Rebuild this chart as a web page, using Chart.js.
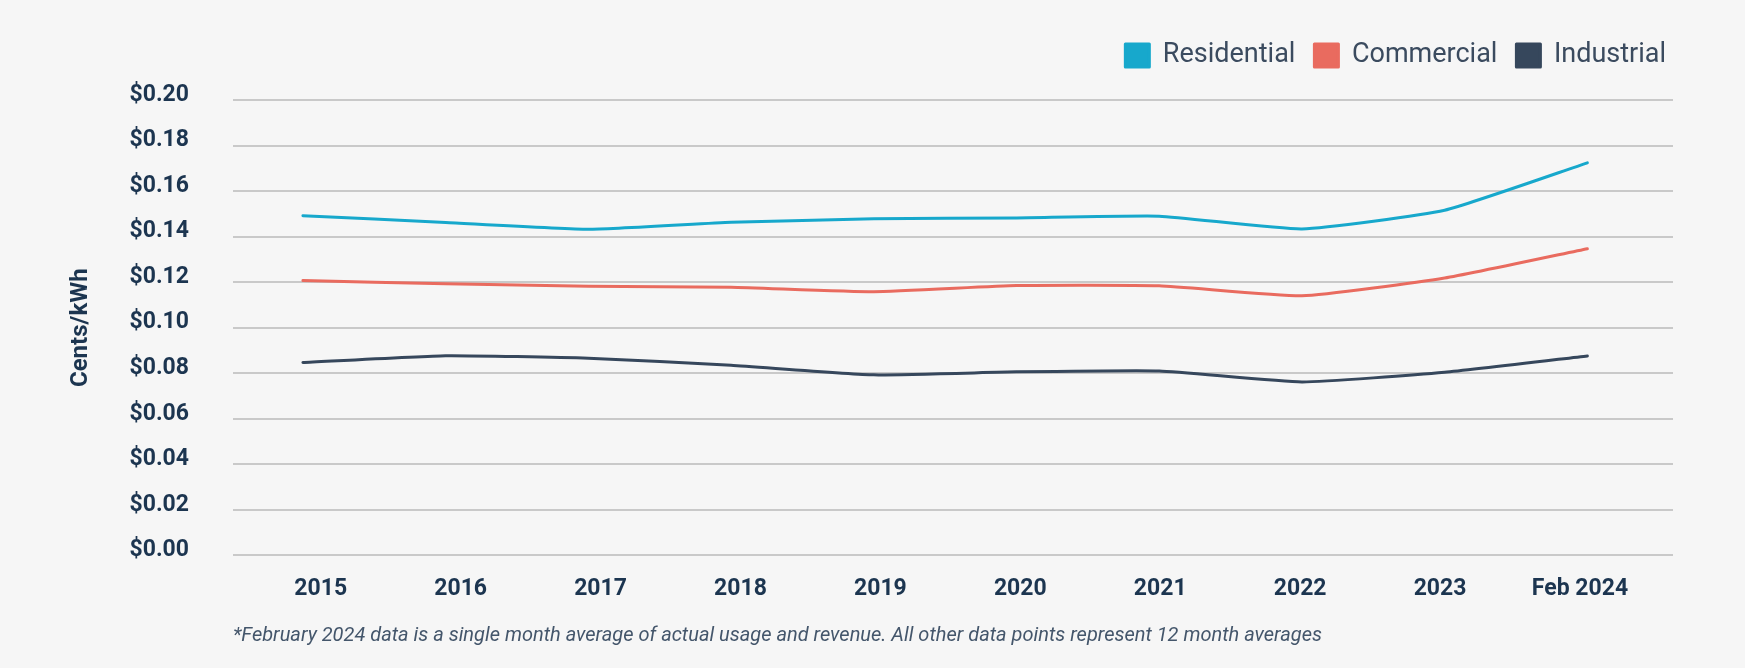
<!DOCTYPE html>
<html lang="en">
<head>
<meta charset="UTF-8" />
<title>Average price per kWh</title>
<script src="https://cdn.jsdelivr.net/npm/chart.js"></script>
<style>
  *{margin:0;padding:0;box-sizing:border-box}
  html,body{width:1745px;height:668px;background:#f6f6f6;overflow:hidden}
  .wrap{position:relative;width:1745px;height:668px}
</style>
</head>
<body>
<div class="wrap"><canvas id="priceChart"></canvas></div>
<script>
  // values ($ per kWh)
  const years = ['2015', '2016', '2017', '2018', '2019', '2020', '2021', '2022', '2023', 'Feb 2024'];
  const residential = [0.1492, 0.1462, 0.1432, 0.1463, 0.1478, 0.1482, 0.1490, 0.1434, 0.1516, 0.1724];
  const commercial  = [0.1207, 0.1193, 0.1182, 0.1178, 0.1158, 0.1185, 0.1184, 0.1140, 0.1218, 0.1347];
  const industrial  = [0.0847, 0.0877, 0.0866, 0.0835, 0.0793, 0.0806, 0.0810, 0.0762, 0.0804, 0.0876];
  const footnote = '*February 2024 data is a single month average of actual usage and revenue. All other data points represent 12 month averages';

  const navy = '#1c3550';

  // more room under the legend, and nudge it a bit to the right
  const legendTweak = {
    id: 'legendTweak',
    beforeInit(chart) {
      const fit = chart.legend.fit;
      chart.legend.fit = function () {
        fit.bind(chart.legend)();
        this.height += 21;
      };
    },
    afterLayout(chart) {
      chart.legend.left += 12;
      chart.legend.right += 12;
    }
  };

  const line = (label, values, color) => ({
    label,
    data: values.map((v, i) => ({ x: i, y: v })),
    borderColor: color,
    backgroundColor: color,
    borderWidth: 3,
    pointRadius: 0,
    tension: 0.15,
    borderCapStyle: 'round',
    borderJoinStyle: 'round'
  });

  new Chart(document.getElementById('priceChart'), {
    type: 'line',
    data: {
      datasets: [
        line('Residential', residential, '#17a8cc'),
        line('Commercial', commercial, '#e96b5f'),
        line('Industrial', industrial, '#36475c')
      ]
    },
    plugins: [legendTweak],
    options: {
      responsive: true,
      maintainAspectRatio: false,
      animation: false,
      layout: { padding: { top: 23, right: 72, bottom: 0, left: 0 } },
      plugins: {
        legend: {
          position: 'top',
          align: 'end',
          labels: {
            boxWidth: 24, boxHeight: 23, padding: 19,
            color: '#3b4b5f',
            font: { family: 'Roboto', size: 27 }
          }
        },
        tooltip: { enabled: false }
      },
      scales: {
        // data axis, hidden
        x: {
          type: 'linear',
          min: -0.49, max: 9.6,
          display: false
        },
        // label axis: the year labels sit a little apart from the points in the original
        xLabels: {
          type: 'linear',
          position: 'bottom',
          min: -0.627, max: 9.665,
          grid: { display: false },
          border: { display: false },
          ticks: {
            stepSize: 1, includeBounds: false, autoSkip: false, maxRotation: 0,
            padding: 12,
            color: navy,
            font: { family: 'Roboto', size: 23, weight: 'bold' },
            callback: v => years[v] ?? ''
          },
          title: {
            display: true, text: footnote, align: 'start',
            color: '#44566b',
            font: { family: 'Roboto', size: 20, style: 'italic' },
            padding: { top: 8.5, bottom: 20.5 }
          }
        },
        y: {
          min: 0, max: 0.2,
          afterFit: s => { s.width = 233; },
          grid: { color: '#c9c9c9', lineWidth: 2, drawTicks: false },
          border: { display: false },
          ticks: {
            stepSize: 0.02, padding: 44, labelOffset: -5,
            color: navy,
            font: { family: 'Roboto', size: 23, weight: 'bold' },
            callback: v => '$' + v.toFixed(2)
          },
          title: {
            display: true, text: 'Cents/kWh',
            color: navy,
            font: { family: 'Roboto', size: 24, weight: 'bold' },
            padding: { top: 67, bottom: 0 }
          }
        }
      }
    }
  });
</script>
</body>
</html>
